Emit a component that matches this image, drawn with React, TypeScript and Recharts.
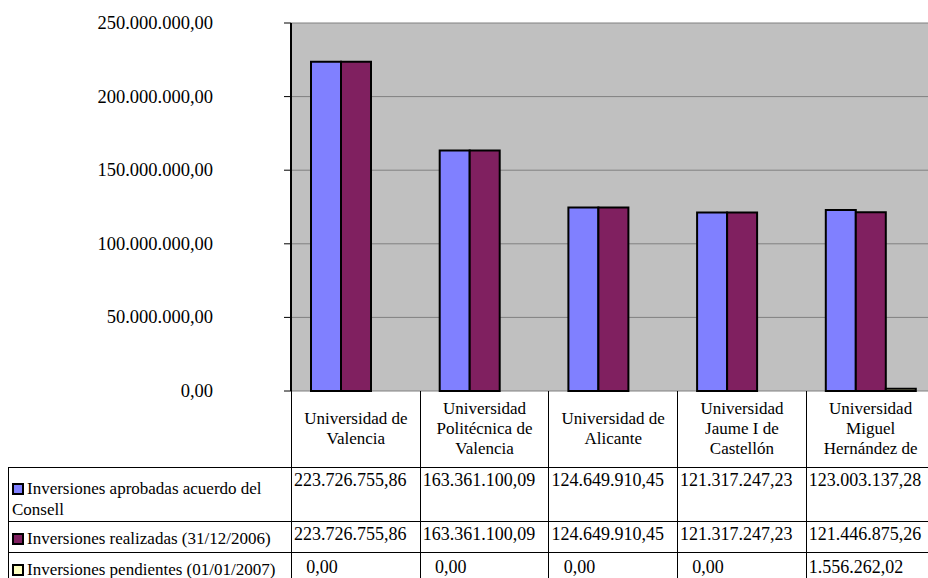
import { BarChart, Bar, XAxis, YAxis, CartesianGrid } from 'recharts';

const categories = [
  'Universidad de\nValencia',
  'Universidad\nPolitécnica de\nValencia',
  'Universidad de\nAlicante',
  'Universidad\nJaume I de\nCastellón',
  'Universidad\nMiguel\nHernández de',
];
const aprobadas = [223726755.86, 163361100.09, 124649910.45, 121317247.23, 123003137.28];
const realizadas = [223726755.86, 163361100.09, 124649910.45, 121317247.23, 121446875.26];
const pendientes = [0, 0, 0, 0, 1556262.02];
const seriesNames = [
  'Inversiones aprobadas acuerdo del Consell',
  'Inversiones realizadas (31/12/2006)',
  'Inversiones pendientes (01/01/2007)',
];
const seriesColors = ['#8080FF', '#802060', '#FFFFC0'];
const yTicks = [0, 50000000, 100000000, 150000000, 200000000, 250000000];

const data = categories.map((name, i) => ({
  name,
  a: aprobadas[i],
  r: realizadas[i],
  p: pendientes[i],
}));
const seriesValues = [aprobadas, realizadas, pendientes];

const FONT = '"Liberation Serif", "Times New Roman", serif';
const CHART_W = 940;
const CHART_H = 412;
const PLOT_LEFT = 291;
const PLOT_RIGHT = 934.5;
const COL_W = (PLOT_RIGHT - PLOT_LEFT) / categories.length;
const PLOT_BOTTOM = 391;
// table rows: [top, height]
const rows: [number, number][] = [
  [467, 54],
  [521, 31],
  [552, 30],
];

// 1234567.8 -> "1.234.567,80"
function fmt(v: number): string {
  const [int, dec] = v.toFixed(2).split('.');
  return int.replace(/\B(?=(\d{3})+(?!\d))/g, '.') + ',' + dec;
}

function YTick(props: any) {
  const { y, payload } = props;
  return (
    <text x={213} y={y} textAnchor="end" dominantBaseline="central"
      fontFamily={FONT} fontSize={18.5} fill="#000">
      {fmt(payload.value)}
    </text>
  );
}

export default function App() {
  return (
    <div style={{ position: 'fixed', left: 0, top: 0, width: 928, height: 578, overflow: 'hidden', background: '#fff', fontFamily: FONT }}>
      <BarChart width={CHART_W} height={CHART_H} data={data}
        margin={{ top: 23, right: CHART_W - PLOT_RIGHT, left: 0, bottom: CHART_H - PLOT_BOTTOM }}
        barGap={0} barCategoryGap={20}>
        <CartesianGrid vertical={false} stroke="#808080" fill="#C0C0C0" />
        <XAxis dataKey="name" tick={false} height={0} tickLine={false}
          axisLine={{ stroke: '#000', strokeWidth: 2 }} />
        <YAxis width={PLOT_LEFT} domain={[0, 250000000]} ticks={yTicks} tickSize={7} interval={0}
          axisLine={{ stroke: '#000', strokeWidth: 2 }} tickLine={{ stroke: '#000' }}
          tick={<YTick />} />
        <Bar dataKey="a" fill={seriesColors[0]} stroke="#000" strokeWidth={2} isAnimationActive={false} />
        <Bar dataKey="r" fill={seriesColors[1]} stroke="#000" strokeWidth={2} isAnimationActive={false} />
        <Bar dataKey="p" fill={seriesColors[2]} stroke="#000" strokeWidth={2} isAnimationActive={false} />
      </BarChart>

      {/* data table below the plot */}
      {categories.map((c, i) => (
        <div key={c} style={{
          position: 'absolute', left: PLOT_LEFT + i * COL_W, top: PLOT_BOTTOM, width: COL_W,
          height: 578 - PLOT_BOTTOM, borderLeft: '1px solid #000', boxSizing: 'border-box',
        }}>
          <div style={{
            height: rows[0][0] - PLOT_BOTTOM, display: 'flex', alignItems: 'center', justifyContent: 'center',
            whiteSpace: 'pre-line', textAlign: 'center', fontSize: 17, lineHeight: '20px',
          }}>{c}</div>
        </div>
      ))}

      {rows.map(([top, h], r) => (
        <div key={r} style={{
          position: 'absolute', left: 8, top, width: CHART_W, height: h,
          borderTop: '1px solid #000', borderLeft: '1px solid #000', boxSizing: 'border-box',
        }}>
          <div style={{ position: 'absolute', left: 3, top: r === 0 ? 10 : 6, width: 280, fontSize: 17, lineHeight: '21px' }}>
            <span style={{
              display: 'inline-block', width: 12, height: 12, boxSizing: 'border-box',
              border: '2px solid #000', background: seriesColors[r], marginRight: 3, verticalAlign: '-1px',
            }} />
            {seriesNames[r]}
          </div>
          {seriesValues[r].map((v, i) => (
            <div key={i} style={{
              position: 'absolute', left: PLOT_LEFT - 8 + i * COL_W + 2, top: r === 0 ? 2 : r === 1 ? 2 : 4,
              width: 56, textAlign: 'center', whiteSpace: 'nowrap', fontSize: 18, lineHeight: '20px',
            }}>{fmt(v)}</div>
          ))}
        </div>
      ))}
    </div>
  );
}
